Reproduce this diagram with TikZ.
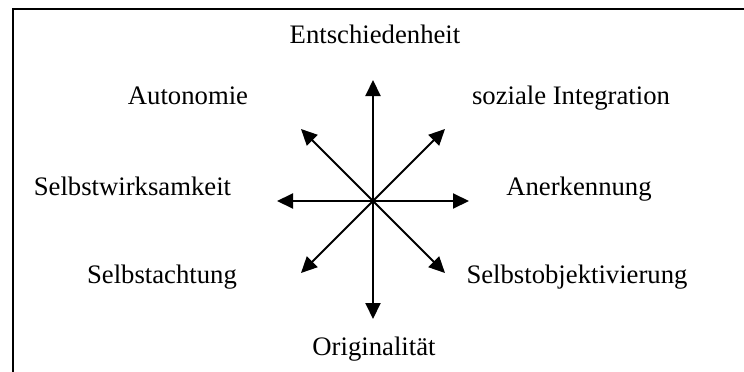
\documentclass[tikz,border=0pt]{standalone}
\usepackage{fontspec}
\setmainfont{Liberation Serif}
\usetikzlibrary{arrows.meta}
\begin{document}
\begin{tikzpicture}[x=1pt,y=-1pt,
  lbl/.style={anchor=base,inner sep=0pt,font=\fontsize{26.7}{32}\selectfont},
  spoke/.style={line width=2pt,-{Triangle[length=16pt,width=15pt]}},
  frame/.style={line width=2pt}]
\useasboundingbox (0,0) rectangle (744,372);
\fill[white] (0,0) rectangle (744,372);
\coordinate (tl) at (13,9);
\coordinate (tr) at (746,9);
\coordinate (bl) at (13,374);
\draw[frame] (tr) -- (tl) -- (bl);
\coordinate (c) at (373,201);
\coordinate (n) at (373,80);
\coordinate (s) at (373,319);
\coordinate (w) at (277,201);
\coordinate (e) at (469,201);
\coordinate (nw) at (301,129);
\coordinate (ne) at (445,129);
\coordinate (sw) at (301,273);
\coordinate (se) at (445,273);
\foreach \t in {n,s,w,e,nw,ne,sw,se} \draw[spoke] (c) -- (\t);
\node[lbl] (lent) at (375,43) {Entschiedenheit};
\node[lbl] (laut) at (188,104) {Autonomie};
\node[lbl] (lsoz) at (571,104) {soziale Integration};
\node[lbl] (lswk) at (132.5,195) {Selbstwirksamkeit};
\node[lbl] (lane) at (579,195) {Anerkennung};
\node[lbl] (lsac) at (162,283) {Selbstachtung};
\node[lbl] (lsob) at (577,283) {Selbstobjektivierung};
\node[lbl] (lori) at (374,355) {Originalität};
\end{tikzpicture}
\end{document}
